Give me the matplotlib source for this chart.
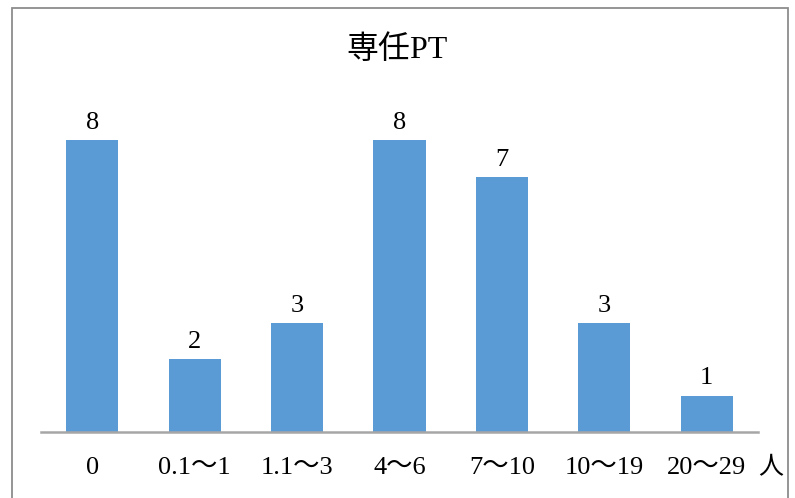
import matplotlib
matplotlib.use("Agg")
import matplotlib.pyplot as plt
from matplotlib.patches import Rectangle
import matplotlib.transforms as mtransforms

# data
categories = ["0", "0.1〜1", "1.1〜3", "4〜6", "7〜10", "10〜19", "20〜29"]
counts = [8, 2, 3, 8, 7, 3, 1]
title = "専任PT"
unit = "人"

BAR_COLOR = "#5B9BD5"
AXIS_COLOR = "#A6A6A6"
FONTS = ["Liberation Serif", "Noto Sans CJK JP", "DejaVu Serif"]

W, H = 795, 498
fig = plt.figure(figsize=(W / 100, H / 100), dpi=100)

# axes placed in pixel units
left, right, bottom_px, top_px = 41, 758, 432, 104
ax = fig.add_axes([left / W, (H - bottom_px) / H, (right - left) / W, (bottom_px - top_px) / H])

x = list(range(len(categories)))
ax.bar(x, counts, width=0.51, color=BAR_COLOR)
ax.set_xlim(-0.5, len(categories) - 0.5)
ax.set_ylim(0, 9)

for s in ["top", "right", "left"]:
    ax.spines[s].set_visible(False)
ax.spines["bottom"].set_color(AXIS_COLOR)
ax.spines["bottom"].set_linewidth(1.8)
ax.set_yticks([])
ax.set_xticks(x)
ax.set_xticklabels(categories, family=FONTS, fontsize=19)
ax.tick_params(axis="x", length=0, pad=18)

# value labels
for xi, v in zip(x, counts):
    ax.annotate(str(v), (xi, v), xytext=(0, 8), textcoords="offset points",
                ha="center", va="baseline", family=FONTS, fontsize=19)

# unit label at the end of the axis
trans = mtransforms.blended_transform_factory(ax.transData, ax.transAxes)
ax.annotate(unit, (len(categories) - 0.5, 0), xycoords=trans, xytext=(9, -25),
            textcoords="offset points", ha="center", va="center",
            family=["Noto Sans CJK JP"], fontsize=18)

fig.text(0.5, 1 - 50 / H, title, ha="center", va="center",
         family=["Liberation Serif", "Noto Sans CJK JP"], fontsize=23)

# chart border
fig.patches.append(Rectangle((12 / W, -0.05), (788 - 12) / W, 1 - 8 / H + 0.05,
                             transform=fig.transFigure, fill=False,
                             edgecolor="#8C8C8C", linewidth=1.3))

fig.savefig("out.png", dpi=100)
